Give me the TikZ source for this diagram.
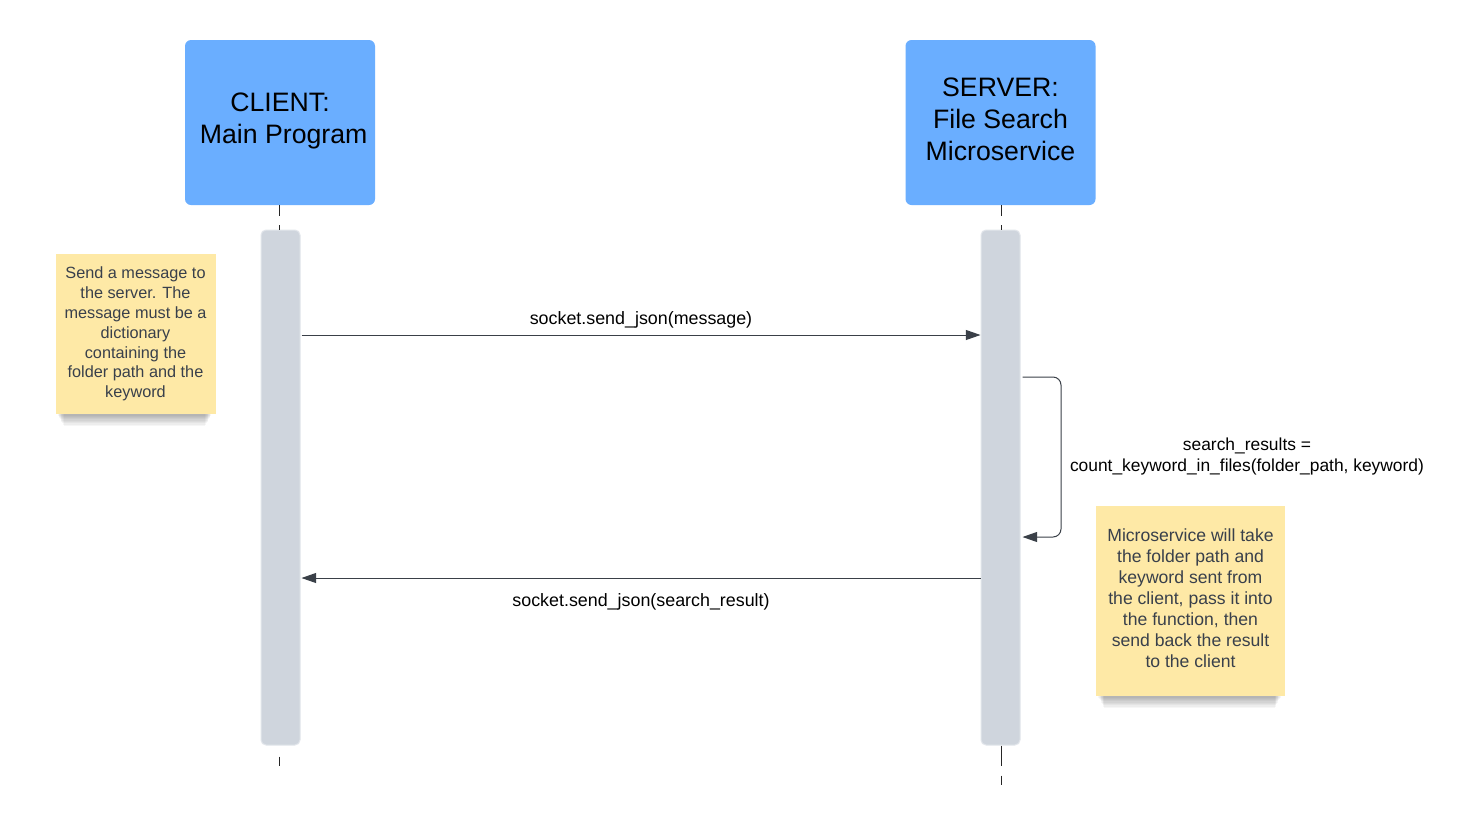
\documentclass[tikz,border=0pt]{standalone}
\usepackage{fontspec}
\setmainfont{Liberation Sans}
\usetikzlibrary{arrows.meta,backgrounds,calc}
\definecolor{headblue}{RGB}{106,174,255}
\definecolor{barfill}{RGB}{207,213,221}
\definecolor{barline}{RGB}{226,230,235}
\definecolor{sticky}{RGB}{254,233,166}
\definecolor{stickytext}{RGB}{57,64,75}
\definecolor{arrowc}{RGB}{58,64,72}
\tikzset{
  headbox/.style={fill=headblue, draw=none, rounded corners=4.5pt, minimum width=142.5pt, minimum height=123.75pt,
    align=center, font={\fontsize{20}{24}\selectfont}, text=black, inner sep=0pt},
  actbar/.style={fill=barfill, draw=barline, line width=0.75pt, rounded corners=3.75pt, minimum width=29.25pt, minimum height=386.25pt, inner sep=0pt},
  lifeline/.style={draw=black!85, line width=0.75pt},
  msg/.style={draw=arrowc, line width=0.75pt, -{Triangle[length=11pt,width=7.5pt]}},
  msglabel/.style={font={\fontsize{13.4}{15.75}\selectfont}, text=black, align=center, inner sep=0pt},
  stickynote/.style={fill=sticky, draw=none, align=center, text=stickytext, inner sep=0pt},
  shadowlayer/.style={fill=black, opacity=0.035, draw=none}
}
\begin{document}
\begin{tikzpicture}[x=0.75pt,y=-0.75pt]
\useasboundingbox (0,0) rectangle (1465,826);
\begin{scope}[on background layer]
\fill[white] (0,0) rectangle (1465,826);
\end{scope}
% heads
\node[headbox, text depth=6.5pt] (client) at (280,122.5) {CLIENT:\\\hspace*{5.5pt}Main Program};
\node[headbox, text depth=4.5pt] (server) at (1000.5,122.5) {SERVER:\\File Search\\Microservice};
% activation bars
\node[actbar] (cbar) at (280.5,487.5) {};
\node[actbar] (sbar) at (1000.5,487.5) {};
% lifelines
\coordinate (cbot) at (279,766);
\coordinate (sbot) at (1001,785);
\draw[lifeline, dash pattern=on 8.25pt off 6.75pt] (client.south -| cbot) -- (cbar.north -| cbot);
\draw[lifeline, dash pattern=on 8.25pt off 6.75pt] (server.south -| sbot) -- (sbar.north -| sbot);
\draw[lifeline, dash pattern=on 7.5pt off 8.25pt, dash phase=7.5pt] (cbar.south -| cbot) -- (cbot);
\draw[lifeline, dash pattern=on 15pt off 7.5pt] (sbar.south -| sbot) -- (sbot);
% messages
\coordinate (m1) at (0,335);
\coordinate (m2) at (0,578);
\coordinate (l1) at (0,377);
\coordinate (l2) at (0,537);
\coordinate (lx) at (1061,0);
\draw[msg] ([xshift=0.75pt]cbar.east |- m1) -- (sbar.west |- m1);
\node[msglabel] (lab1) at (641,319.5) {socket.send\_json(message)};
\draw[msg] (sbar.west |- m2) -- ([xshift=0.75pt]cbar.east |- m2);
\node[msglabel] (lab2) at (641,601.5) {socket.send\_json(search\_result)};
\draw[msg, rounded corners=6pt] ([xshift=1.5pt]sbar.east |- l1) -- (lx |- l1) -- (lx |- l2) -- ([xshift=1.5pt]sbar.east |- l2);
\node[msglabel, font={\fontsize{13.05}{15.75}\selectfont}] (lab3) at (1247,456) {search\_results =\\count\_keyword\_in\_files(folder\_path, keyword)};
% sticky notes
\node[stickynote, minimum width=120pt, minimum height=120pt, font={\fontsize{12.2}{14.9}\selectfont}] (note1) at (135.5,334)
  {Send a message to\\the server. The\\message must be a\\dictionary\\containing the\\folder path and the\\keyword};
\node[stickynote, minimum width=141.75pt, minimum height=142.5pt, text depth=4.5pt, font={\fontsize{13.2}{15.75}\selectfont}] (note2) at (1190.5,601)
  {Microservice will take\\the folder path and\\keyword sent from\\the client, pass it into\\the function, then\\send back the result\\to the client};
% shadows of the sticky notes
\begin{scope}[on background layer]
\foreach \n in {note1,note2}{
  \foreach \i in {0,...,9}{
    \fill[shadowlayer] ($(\n.south west)+(2+0.7*\i,1.3*\i)$) rectangle ($(\n.south east)+(-4-0.7*\i,-20)$);
  }
}
\end{scope}
\end{tikzpicture}
\end{document}
